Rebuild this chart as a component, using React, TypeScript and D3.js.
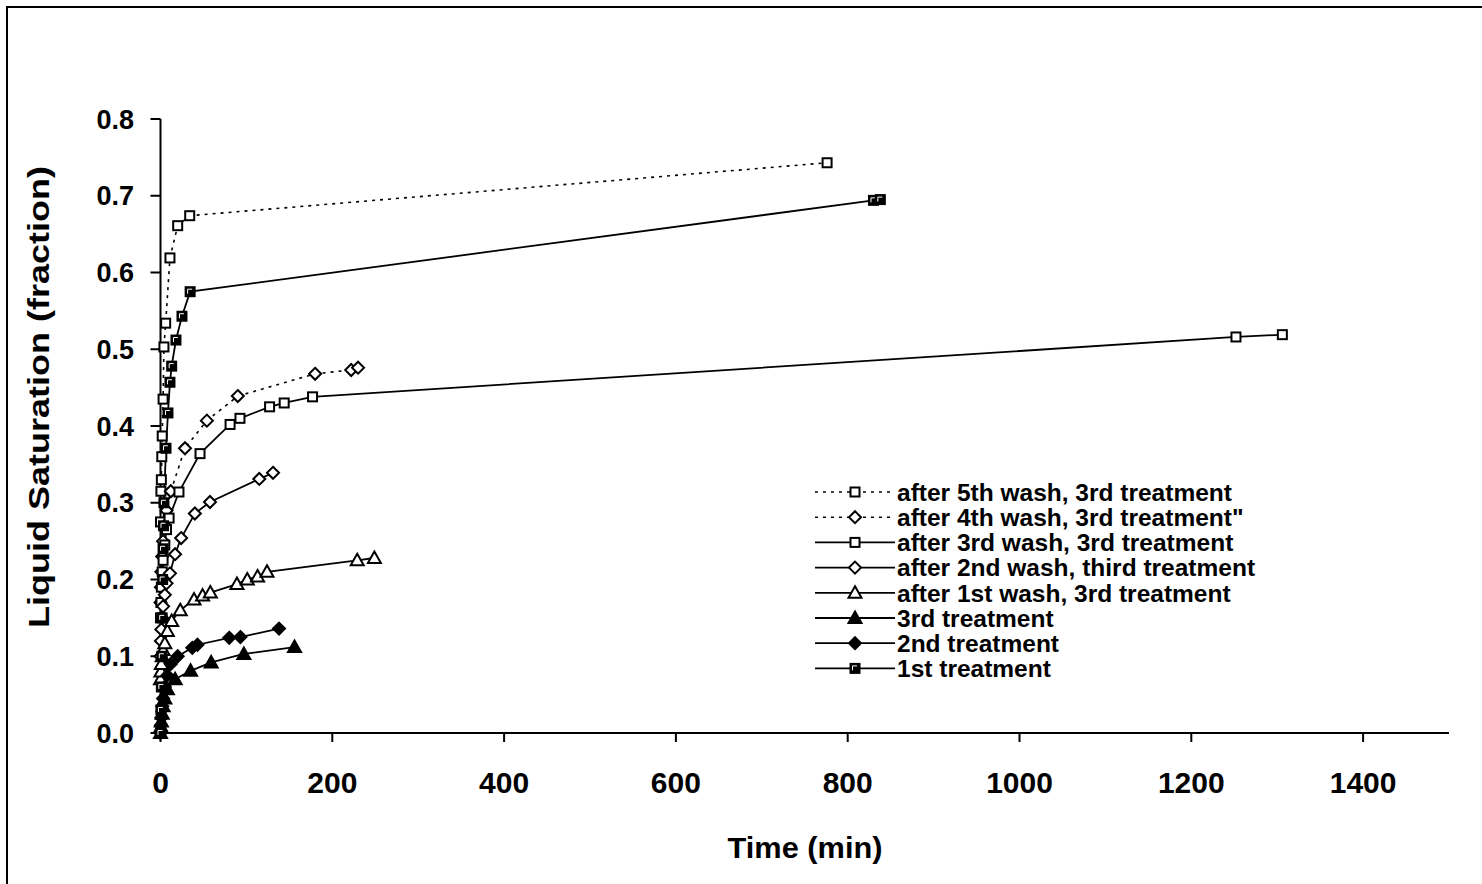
import React from "react";
import * as d3 from "d3";

// ---- data ----
const wash5T = [0, 0.5, 1, 1.5, 2, 3, 4, 6, 11, 20, 34, 776];
const wash5V = [0.275, 0.315, 0.33, 0.36, 0.387, 0.435, 0.503, 0.534, 0.619, 0.661, 0.674, 0.743];

const wash4T = [0, 0.5, 1, 2, 3, 5, 7, 12, 28.5, 54, 90, 180, 222, 230];
const wash4V = [0.17, 0.19, 0.21, 0.23, 0.25, 0.27, 0.29, 0.315, 0.371, 0.407, 0.439, 0.468, 0.473, 0.476];

const wash3T = [0, 0.5, 1, 2, 3, 5, 7, 10, 21.5, 46, 81, 92.5, 127, 144, 177, 1252, 1306];
const wash3V = [0.15, 0.17, 0.19, 0.21, 0.225, 0.245, 0.265, 0.28, 0.314, 0.364, 0.402, 0.41, 0.425, 0.43, 0.438, 0.516, 0.519];

const wash2T = [0, 0.5, 1, 2, 3, 5, 7, 11, 17, 24, 40, 57.6, 115, 131];
const wash2V = [0.1, 0.12, 0.135, 0.15, 0.165, 0.18, 0.195, 0.208, 0.233, 0.254, 0.286, 0.301, 0.331, 0.339];

const wash1T = [0, 0.5, 1, 2, 3, 5, 8, 13, 23, 39, 49, 58, 89, 101, 113, 124, 229, 249];
const wash1V = [0.07, 0.08, 0.09, 0.1, 0.108, 0.117, 0.133, 0.146, 0.16, 0.174, 0.179, 0.183, 0.194, 0.2, 0.204, 0.21, 0.225, 0.228];

const treat3T = [0, 0.5, 1, 2, 3, 5, 8, 17, 35, 59, 97, 156];
const treat3V = [0, 0.008, 0.015, 0.025, 0.035, 0.045, 0.057, 0.07, 0.081, 0.092, 0.103, 0.112];

const treat2T = [0, 0.5, 1, 2, 3, 5, 8, 12, 20, 37, 43, 80, 93, 138];
const treat2V = [0, 0.01, 0.02, 0.035, 0.045, 0.06, 0.075, 0.09, 0.1, 0.111, 0.115, 0.124, 0.125, 0.136];

const treat1T = [0, 0.5, 1, 1.5, 2, 2.5, 3, 3.5, 4, 6.4, 8.7, 11, 13, 18, 25, 34.5, 830, 838];
const treat1V = [0, 0.03, 0.06, 0.1, 0.15, 0.2, 0.24, 0.27, 0.3, 0.371, 0.417, 0.457, 0.478, 0.512, 0.543, 0.575, 0.694, 0.695];

const seriesNames = [
  "after 5th wash, 3rd treatment",
  "after 4th wash, 3rd treatment\"",
  "after 3rd wash, 3rd treatment",
  "after 2nd wash, third treatment",
  "after 1st wash, 3rd treatment",
  "3rd treatment",
  "2nd treatment",
  "1st treatment",
];

const xTicks = [0, 200, 400, 600, 800, 1000, 1200, 1400];
const yTicks = [0, 0.1, 0.2, 0.3, 0.4, 0.5, 0.6, 0.7, 0.8];

type Marker = "sqOpen" | "diaOpen" | "triOpen" | "triFill" | "diaFill" | "sqSpecial";

const series: { name: string; t: number[]; v: number[]; dashed: boolean; marker: Marker }[] = [
  { name: seriesNames[0], t: wash5T, v: wash5V, dashed: true, marker: "sqOpen" },
  { name: seriesNames[1], t: wash4T, v: wash4V, dashed: true, marker: "diaOpen" },
  { name: seriesNames[2], t: wash3T, v: wash3V, dashed: false, marker: "sqOpen" },
  { name: seriesNames[3], t: wash2T, v: wash2V, dashed: false, marker: "diaOpen" },
  { name: seriesNames[4], t: wash1T, v: wash1V, dashed: false, marker: "triOpen" },
  { name: seriesNames[5], t: treat3T, v: treat3V, dashed: false, marker: "triFill" },
  { name: seriesNames[6], t: treat2T, v: treat2V, dashed: false, marker: "diaFill" },
  { name: seriesNames[7], t: treat1T, v: treat1V, dashed: false, marker: "sqSpecial" },
];

const FONT = "Arial, 'Liberation Sans', sans-serif";

function MarkerShape({ kind, x, y }: { kind: Marker; x: number; y: number }) {
  const sw = 2;
  switch (kind) {
    case "sqOpen":
      return <rect x={x - 4.5} y={y - 4.5} width={9} height={9} fill="#fff" stroke="#000" strokeWidth={sw} />;
    case "sqSpecial":
      return (
        <g>
          <rect x={x - 4.5} y={y - 4.5} width={9} height={9} fill="#000" stroke="#000" strokeWidth={sw} />
          <polyline points={`${x - 2.5},${y + 2} ${x - 2.5},${y - 2.5} ${x + 2},${y - 2.5}`} fill="none" stroke="#fff" strokeWidth={1} />
        </g>
      );
    case "diaOpen":
    case "diaFill":
      return (
        <path
          d={`M${x},${y - 6} L${x + 6},${y} L${x},${y + 6} L${x - 6},${y} Z`}
          fill={kind === "diaFill" ? "#000" : "#fff"}
          stroke="#000"
          strokeWidth={sw}
        />
      );
    case "triOpen":
    case "triFill":
      return (
        <path
          d={`M${x},${y - 6.5} L${x + 6.5},${y + 5} L${x - 6.5},${y + 5} Z`}
          fill={kind === "triFill" ? "#000" : "#fff"}
          stroke="#000"
          strokeWidth={sw}
          strokeLinejoin="miter"
        />
      );
  }
  return null;
}

export default function App() {
  const W = 1482;
  const H = 884;
  const x = d3.scaleLinear().domain([0, 1500]).range([160.5, 1449]);
  const y = d3.scaleLinear().domain([0, 0.8]).range([733, 119]);

  const line = d3
    .line<[number, number]>()
    .x((d) => x(d[0]))
    .y((d) => y(d[1]));

  const legendX0 = 815;
  const legendX1 = 895;
  const legendMX = 855;
  const legendTextX = 897;
  const legendY0 = 492;
  const legendDY = 25.2;

  return (
    <svg
      width={W}
      height={H}
      style={{ position: "absolute", left: 0, top: 0, background: "#fff" }}
      fontFamily={FONT}
    >
      <rect x={0} y={0} width={W} height={H} fill="#fff" />
      <rect x={7} y={7} width={W + 20} height={H + 20} fill="none" stroke="#000" strokeWidth={2} />

      {/* axes */}
      <line x1={x(0)} x2={x(0)} y1={y(0.8)} y2={y(0)} stroke="#000" strokeWidth={2} />
      <line x1={x(0)} x2={x(1500)} y1={y(0)} y2={y(0)} stroke="#000" strokeWidth={2} />
      {yTicks.map((t) => (
        <g key={"yt" + t}>
          <line x1={x(0) - 10} x2={x(0)} y1={y(t)} y2={y(t)} stroke="#000" strokeWidth={2} />
          <text x={134} y={y(t)} dy="0.36em" textAnchor="end" fontSize={27} fontWeight="bold">
            {t.toFixed(1)}
          </text>
        </g>
      ))}
      {xTicks.map((t) => (
        <g key={"xt" + t}>
          <line x1={x(t)} x2={x(t)} y1={y(0)} y2={y(0) + 9} stroke="#000" strokeWidth={2} />
          <text x={x(t)} y={793} textAnchor="middle" fontSize={30} fontWeight="bold">
            {t}
          </text>
        </g>
      ))}
      <text x={805} y={858} textAnchor="middle" fontSize={29} fontWeight="bold" textLength={155} lengthAdjust="spacingAndGlyphs">
        Time (min)
      </text>
      <text
        transform={`translate(49,397) rotate(-90)`}
        textAnchor="middle"
        fontSize={29}
        fontWeight="bold"
        textLength={462}
        lengthAdjust="spacingAndGlyphs"
      >
        Liquid Saturation (fraction)
      </text>

      {/* series lines */}
      {series.map((s, i) => {
        const pts = s.t.map((t, k) => [t, s.v[k]] as [number, number]);
        return (
          <path
            key={"l" + i}
            d={line(pts) || ""}
            fill="none"
            stroke="#000"
            strokeWidth={s.dashed ? 1.6 : 1.8}
            strokeDasharray={s.dashed ? "3,5" : undefined}
          />
        );
      })}
      {/* markers */}
      {series.map((s, i) => (
        <g key={"m" + i}>
          {s.t.map((t, k) => (
            <MarkerShape key={k} kind={s.marker} x={x(t)} y={y(s.v[k])} />
          ))}
        </g>
      ))}

      {/* legend */}
      {series.map((s, i) => {
        const ly = legendY0 + i * legendDY;
        return (
          <g key={"lg" + i}>
            <line
              x1={legendX0}
              x2={legendX1}
              y1={ly}
              y2={ly}
              stroke="#000"
              strokeWidth={s.dashed ? 1.6 : 1.8}
              strokeDasharray={s.dashed ? "3,5" : undefined}
            />
            <MarkerShape kind={s.marker} x={legendMX} y={ly} />
            <text x={legendTextX} y={ly} dy="0.36em" fontSize={24.5} fontWeight="bold">
              {s.name}
            </text>
          </g>
        );
      })}
    </svg>
  );
}
